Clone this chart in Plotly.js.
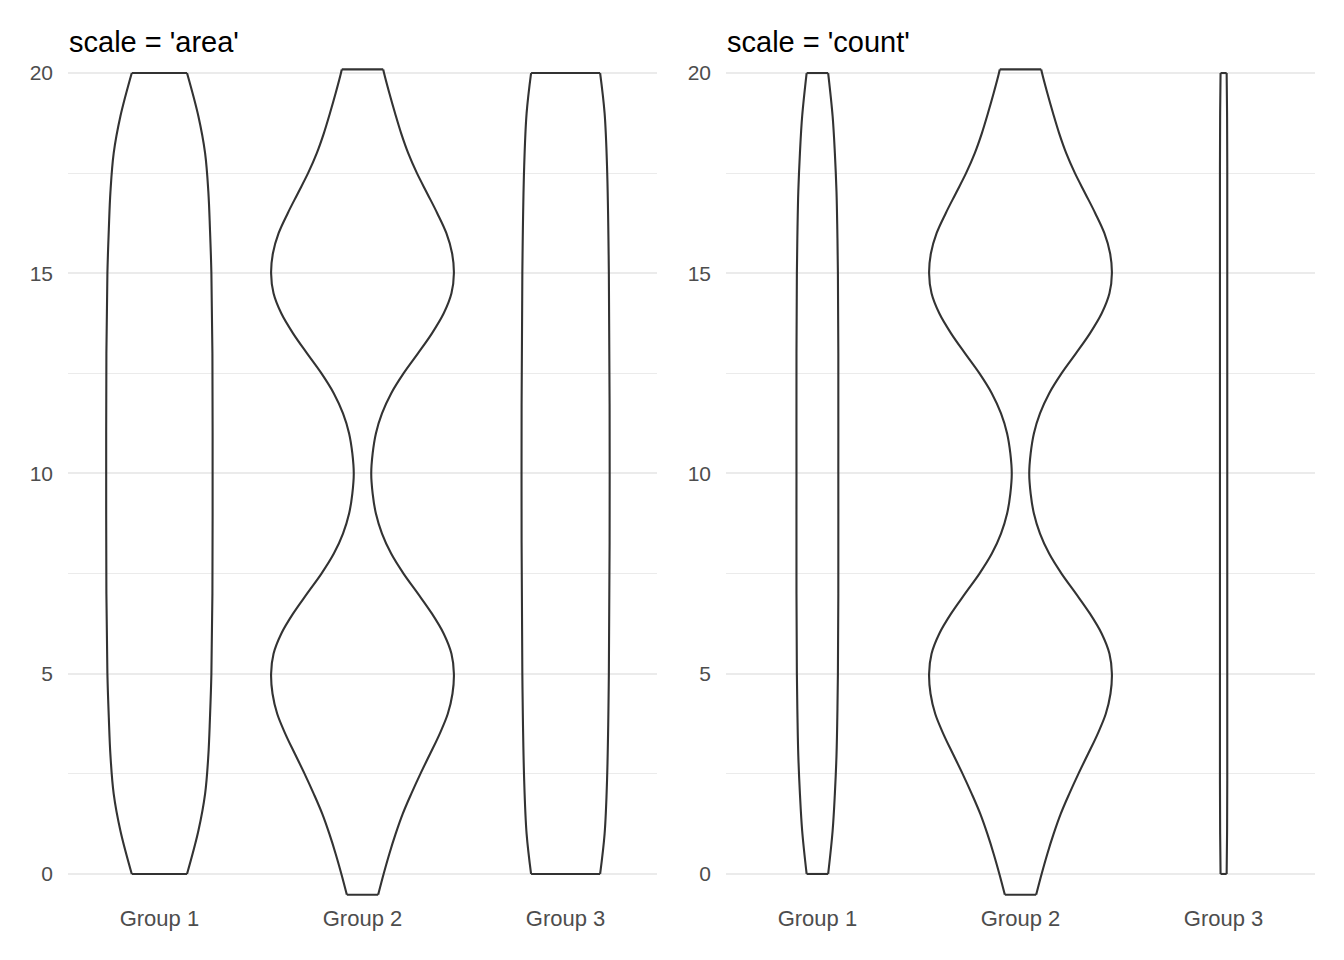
<!DOCTYPE html>
<html>
<head>
<meta charset="utf-8">
<script src="https://cdn.plot.ly/plotly-3.0.1.min.js"></script>
<style>html,body{margin:0;padding:0;background:#fff;}#chart{width:1344px;height:960px;}</style>
</head>
<body>
<div id="chart"></div>
<script>
// ---- data ----
const groups = ['Group 1', 'Group 2', 'Group 3'];
const panelTitles = ["scale = 'area'", "scale = 'count'"];
const yTicks = [0, 5, 10, 15, 20];

// Group 1: density profile (y levels, violin half-widths)
const g1Y      = [0, 1.08, 2.0, 2.96, 3.9, 5, 7, 10, 13, 15, 16.1, 17.04, 18.0, 18.92, 20];
const g1AreaW  = [0.136, 0.192, 0.225, 0.241, 0.249, 0.256, 0.261, 0.262, 0.261, 0.256, 0.249, 0.241, 0.225, 0.192, 0.136];
const g1CountW = [0.053, 0.075, 0.086, 0.094, 0.098, 0.101, 0.103, 0.103, 0.103, 0.101, 0.098, 0.094, 0.086, 0.075, 0.053];

// Group 2: bimodal (same profile in both panels)
const g2Y = [-0.52, 0, 0.5, 1, 1.5, 2, 2.5, 3, 3.5, 4, 4.5, 5,
             5.5, 6, 6.5, 7, 7.5, 8, 8.5, 9, 9.5, 10,
             10.5, 11, 11.5, 12, 12.5, 13, 13.5, 14, 14.5, 15,
             15.5, 16, 16.5, 17, 17.5, 18, 18.5, 19, 19.5, 20, 20.09];
const g2W = [0.077, 0.104, 0.132, 0.163, 0.198, 0.240, 0.285, 0.333, 0.380, 0.420, 0.443, 0.450,
             0.438, 0.400, 0.342, 0.273, 0.202, 0.141, 0.096, 0.066, 0.050, 0.043,
             0.050, 0.066, 0.096, 0.141, 0.202, 0.273, 0.342, 0.400, 0.438, 0.450,
             0.441, 0.413, 0.368, 0.318, 0.268, 0.225, 0.190, 0.160, 0.132, 0.106, 0.102];

// Group 3
const g3Y      = [0, 1.0, 2.34, 5, 10, 15, 17.66, 19.0, 20];
const g3AreaW  = [0.170, 0.192, 0.204, 0.213, 0.217, 0.213, 0.204, 0.192, 0.170];
const g3CountW = [0.015, 0.017, 0.018, 0.018, 0.018, 0.018, 0.018, 0.017, 0.015];

const panels = [
  {ys: [g1Y, g2Y, g3Y], ws: [g1AreaW, g2W, g3AreaW]},
  {ys: [g1Y, g2Y, g3Y], ws: [g1CountW, g2W, g3CountW]}
];

// ---- build ----
const LINE = '#333333';
const LW = 2.1;
const traces = [];
panels.forEach((p, pi) => {
  const xa = pi === 0 ? 'x' : 'x2';
  const ya = pi === 0 ? 'y' : 'y2';
  groups.forEach((g, gi) => {
    const c = gi + 1;
    const ys = p.ys[gi], ws = p.ws[gi];
    const n = ys.length;
    const lx = ys.map((y, i) => c - ws[i]);
    const rx = ys.map((y, i) => c + ws[i]);
    traces.push({
      type: 'scatter', mode: 'lines', xaxis: xa, yaxis: ya,
      x: lx.concat([null], rx), y: ys.concat([null], ys),
      connectgaps: false,
      line: {color: LINE, width: LW, shape: 'spline', smoothing: 1},
      hoverinfo: 'skip', showlegend: false
    });
    traces.push({
      type: 'scatter', mode: 'lines', xaxis: xa, yaxis: ya,
      x: [lx[0], rx[0], null, lx[n-1], rx[n-1]],
      y: [ys[0], ys[0], null, ys[n-1], ys[n-1]],
      connectgaps: false,
      line: {color: LINE, width: LW},
      hoverinfo: 'skip', showlegend: false
    });
  });
});

const FONT = 'Liberation Sans, Arial, Helvetica, sans-serif';
function xAxis(domain) {
  return {
    domain: domain, range: [0.55, 3.45], showgrid: false, zeroline: false, showline: false,
    tickvals: groups.map((g, i) => i + 1), ticktext: groups, ticks: '',
    tickfont: {family: FONT, size: 22, color: '#4D4D4D'}, ticklabelstandoff: 1,
    automargin: false, fixedrange: true
  };
}
function yAxis(anchor) {
  return {
    domain: [0.060417, 0.940625], range: [-0.7, 20.4], anchor: anchor,
    tickvals: yTicks, ticktext: yTicks.map(String), ticks: '',
    showgrid: true, gridcolor: '#EBEBEB', gridwidth: 2,
    minor: {tick0: 0, dtick: 2.5, showgrid: true, gridcolor: '#EBEBEB', gridwidth: 1},
    zeroline: false, showline: false,
    tickfont: {family: FONT, size: 21, color: '#4D4D4D'}, ticklabelstandoff: 14,
    automargin: false, fixedrange: true
  };
}

const layout = {
  width: 1344, height: 960,
  margin: {l: 0, r: 0, t: 0, b: 0, pad: 0},
  paper_bgcolor: '#FFFFFF', plot_bgcolor: 'rgba(0,0,0,0)',
  showlegend: false,
  xaxis: Object.assign(xAxis([68/1344, 657/1344]), {anchor: 'y'}),
  yaxis: yAxis('x'),
  xaxis2: Object.assign(xAxis([726/1344, 1315/1344]), {anchor: 'y2'}),
  yaxis2: yAxis('x2'),
  annotations: [
    {text: panelTitles[0], xref: 'paper', yref: 'paper', x: 67/1344, y: (960-42)/960,
     xanchor: 'left', yanchor: 'middle', showarrow: false,
     font: {family: FONT, size: 29, color: '#000000'}},
    {text: panelTitles[1], xref: 'paper', yref: 'paper', x: 725/1344, y: (960-42)/960,
     xanchor: 'left', yanchor: 'middle', showarrow: false,
     font: {family: FONT, size: 29, color: '#000000'}}
  ]
};

Plotly.newPlot('chart', traces, layout, {displayModeBar: false, staticPlot: true});
</script>
</body>
</html>
